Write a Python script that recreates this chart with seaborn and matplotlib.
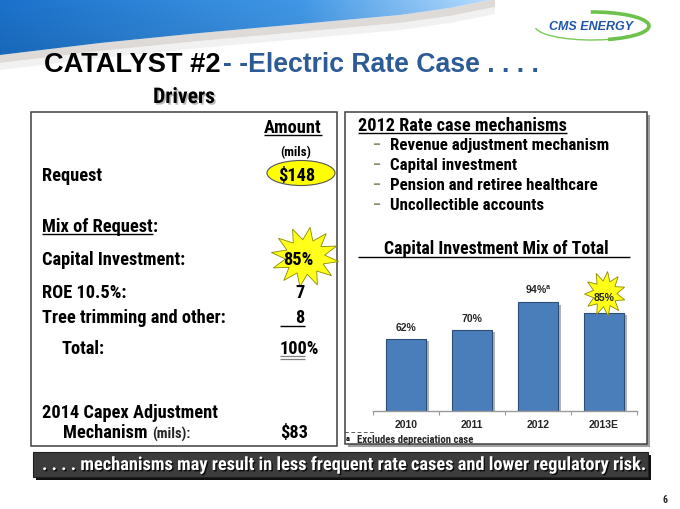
import numpy as np
import pandas as pd
import matplotlib
matplotlib.use('Agg')
import matplotlib.pyplot as plt
import matplotlib.patheffects as pe
from matplotlib import font_manager
from matplotlib.patches import Rectangle, Ellipse, Polygon, Arc
from matplotlib.transforms import ScaledTranslation
import seaborn as sns

# ---------------- data ----------------
years = ['2010', '2011', '2012', '2013E']
capital_mix = [62, 70, 94, 85]
bar_labels = ['62%', '70%', '94%', '85%']

request_label = 'Request'
request_amount = '$148'
mix_items = ['Capital Investment:', 'ROE 10.5%:', 'Tree trimming and other:']
mix_values = ['85%', '7', '8']
total_value = '100%'
capex_amount = '$83'

mechanisms = ['Revenue adjustment mechanism', 'Capital investment',
              'Pension and retiree healthcare', 'Uncollectible accounts']
banner_text = '. . . . mechanisms may result in less frequent rate cases and lower regulatory risk.'

# ---------------- fonts ----------------
sns.set_theme(style='white')


def _w(f):
    w = f.weight
    if isinstance(w, str):
        w = font_manager.weight_dict.get(w, 400)
    return w


bold_families = {f.name for f in font_manager.fontManager.ttflist if _w(f) >= 700}
NARROW = 'Liberation Sans'
for cand in ['Liberation Sans Narrow', 'Arial Narrow', 'Roboto Condensed', 'PT Sans Narrow',
             'Pragati Narrow', 'Barlow Semi Condensed', 'Fira Sans Condensed',
             'Encode Sans Condensed']:
    if cand in bold_families:
        NARROW = cand
        break
ARIAL = 'Liberation Sans'
plt.rcParams['font.family'] = [NARROW, 'DejaVu Sans']
plt.rcParams['mathtext.fontset'] = 'custom'
plt.rcParams['mathtext.rm'] = ARIAL

fig = plt.figure(figsize=(6.8, 5.1), dpi=100)
fig.patch.set_facecolor('white')

ov = fig.add_axes([0, 0, 1, 1])
ov.set_xlim(0, 680)
ov.set_ylim(510, 0)
ov.axis('off')

# ---------------- header art ----------------
ex = np.array([0, 100, 200, 300, 400, 450, 495])
ey = np.array([56, 44, 34, 25, 16, 9, 0])
xx = np.linspace(0, 495, 80)
yy = np.interp(xx, ex, ey)
blue_poly = np.vstack([[[0, 0], [495, 0]], np.column_stack([xx[::-1], yy[::-1]])])

W = 500
grad = np.zeros((60, W, 3))
t = np.linspace(0, 1, W)
c0 = np.array([0.10, 0.42, 0.75])
c1 = np.array([0.24, 0.56, 0.85])
c2 = np.array([0.70, 0.83, 0.95])
for i, tv in enumerate(t):
    if tv < 0.6:
        c = c0 + (c1 - c0) * (tv / 0.6)
    else:
        c = c1 + (c2 - c1) * ((tv - 0.6) / 0.4)
    grad[:, i, :] = c
vert = np.linspace(1.06, 0.96, 60)[:, None, None]
grad = np.clip(grad * vert, 0, 1)
im = ov.imshow(grad, extent=(0, 500, 60, 0), aspect='auto', zorder=1,
               interpolation='bilinear')
clip = Polygon(blue_poly, closed=True, transform=ov.transData,
               facecolor='none', edgecolor='none')
ov.add_patch(clip)
im.set_clip_path(clip)
ov.set_xlim(0, 680)
ov.set_ylim(510, 0)

band = np.vstack([np.column_stack([xx, yy]),
                  np.column_stack([xx[::-1], yy[::-1] + 8])])
ov.add_patch(Polygon(band, closed=True, facecolor='#C4BDB6', edgecolor='none',
                     alpha=0.55, zorder=0.9))
band2 = np.vstack([np.column_stack([xx, yy + 8]),
                   np.column_stack([xx[::-1], yy[::-1] + 15])])
ov.add_patch(Polygon(band2, closed=True, facecolor='#E8E8E8', edgecolor='none',
                     alpha=0.6, zorder=0.9))

for w_, h_, c_ in [(330, 120, 'white'), (360, 140, 'white'), (300, 100, '#DDE8F4'),
                   (420, 150, '#C9D9EC')]:
    ov.add_patch(Arc((330, -35), w_, h_, theta1=180, theta2=360, color=c_, lw=0.7,
                     zorder=2, alpha=0.9))

# CMS ENERGY logo
ov.add_patch(Arc((592, 27), 114, 28, theta1=-95, theta2=40, color='#6CC24A', lw=2.6, zorder=3))
ov.add_patch(Arc((592, 27), 114, 28, theta1=40, theta2=178, color='#7ACC55', lw=1.0, zorder=3))
ov.text(591, 27, 'CMS ENERGY', fontsize=9, fontweight='heavy', fontstyle='italic',
        family=ARIAL, color='#1F55A8', ha='center', va='center', zorder=4)

fig.canvas.draw()
R = fig.canvas.get_renderer()


def fit(a, target):
    bb = a.get_window_extent(R)
    a.set_fontsize(a.get_fontsize() * target / bb.width)
    return a.get_fontsize()


def txt(x, y, s, size=13, ha='left', color='black', **kw):
    return ov.text(x, y, s, fontsize=size, fontweight='bold', ha=ha, va='baseline',
                   color=color, zorder=6, **kw)


def uline(x0, x1, y, color='black', lw=1.0):
    ov.plot([x0, x1], [y, y], color=color, lw=lw, zorder=6, solid_capstyle='butt')


def ul_under(a, y, color='black', lw=1.0):
    bb = a.get_window_extent(R)
    uline(bb.x0, bb.x1, y, color, lw)


# ---------------- title ----------------
t1 = ov.text(44, 72, 'CATALYST #2', fontsize=20.5, fontweight='bold', family=ARIAL,
             color='black', va='baseline', zorder=5)
fit(t1, 177)
t2 = ov.text(223, 72, '- -Electric Rate Case . . . .', fontsize=20.5, fontweight='bold',
             family=ARIAL, color='#2D5B95', va='baseline', zorder=5)
fit(t2, 316)

td = ov.text(184, 104, 'Drivers', fontsize=15.5, fontweight='bold', ha='center',
             va='baseline', color='black',
             path_effects=[pe.SimplePatchShadow(offset=(1.2, -1.2), shadow_rgbFace='#909090',
                                                alpha=0.6), pe.Normal()])
fit(td, 62)

# ---------------- boxes ----------------
ov.add_patch(Rectangle((31, 113), 306, 334, facecolor='white', edgecolor='#404040',
                       lw=1.1, zorder=1))
ov.add_patch(Rectangle((348, 116), 302, 332, facecolor='#A0A0A0', edgecolor='none',
                       zorder=0.9))
ov.add_patch(Rectangle((345, 113), 302, 332, facecolor='white', edgecolor='#404040',
                       lw=1.1, zorder=1))

# left box body size from the longest label
probe = txt(42, 323, mix_items[2])
S = fit(probe, 182)
probe.remove()

ta = txt(293, 133, 'Amount', size=S, ha='center')
fig.canvas.draw()
ul_under(ta, 136)
txt(296, 156, '(mils)', size=S * 0.72, ha='center')
ov.add_patch(Ellipse((301, 174), 68, 25, facecolor='#FFFF00', edgecolor='#555555',
                     lw=0.8, zorder=5))
txt(42, 181, request_label, size=S)
txt(297, 181, request_amount, size=S, ha='center')

tm = txt(42, 232, 'Mix of Request', size=S)
fig.canvas.draw()
bbm = tm.get_window_extent(R)
txt(bbm.x1 + 0.5, 232, ':', size=S)
uline(bbm.x0, bbm.x1, 235)


def star(cx, cy, rx, ry, n=12, inner=0.62, rot=0.0):
    ang = np.linspace(0, 2 * np.pi, 2 * n, endpoint=False) + rot
    r = np.where(np.arange(2 * n) % 2 == 0, 1.0, inner)
    return np.column_stack([cx + rx * r * np.cos(ang), cy + ry * r * np.sin(ang)])


ov.add_patch(Polygon(star(305, 258, 34, 30, n=12, inner=0.58, rot=0.15), closed=True,
                     facecolor='#FFFF1A', edgecolor='#8A8A00', lw=0.6, zorder=5))

mix_y = [265, 298, 323]
for k, (lab, val, y) in enumerate(zip(mix_items, mix_values, mix_y)):
    txt(42, y, lab, size=S)
    txt(298 if k == 0 else 300, y, val, size=S, ha='center')
uline(280, 305, 327)
txt(62, 354, 'Total:', size=S)
txt(280, 354, total_value, size=S)
uline(280, 305, 357, color='#808080', lw=0.9)
uline(280, 305, 359.5, color='#808080', lw=0.9)

txt(42, 418, '2014 Capex Adjustment', size=S)
t_m = txt(63, 438, 'Mechanism ', size=S)
ov.annotate('(mils):', xy=(1, 0), xycoords=t_m, fontsize=S * 0.8, fontweight='bold',
            va='bottom', ha='left', zorder=6)
txt(280, 438, capex_amount, size=S)

# right box
th = txt(358, 131, '2012 Rate case mechanisms', size=S)
fit(th, 209)
fig.canvas.draw()
ul_under(th, 134)
tb0 = txt(390, 150, mechanisms[0], size=12)
B = fit(tb0, 218)
for i, m in enumerate(mechanisms):
    y = 150 + i * 20
    txt(373, y - 1, '–', size=B * 0.85, color='#8C8C6A')
    if i > 0:
        txt(390, y, m, size=B)

tc = txt(496, 254, 'Capital Investment Mix of Total', ha='center', size=S)
fit(tc, 226)
uline(358, 630, 258)

# ---------------- bar chart (seaborn) ----------------
px = 1.155
bx = fig.add_axes([373 / 680, 1 - 412 / 510, 264 / 680, 100 * px / 510])
bx.patch.set_alpha(0)
df = pd.DataFrame({'year': years, 'mix': capital_mix})
sns.barplot(data=df, x='year', y='mix', ax=bx, color='#4A7EBB', saturation=1,
            width=0.62, edgecolor='#2B4C74', linewidth=0.8)
for p in bx.patches:
    p.set_path_effects([pe.SimplePatchShadow(offset=(1.5, -1.5), alpha=0.35), pe.Normal()])
bx.set_xlim(-0.5, 3.5)
bx.set_ylim(0, 100)
for s in ['top', 'right', 'left']:
    bx.spines[s].set_visible(False)
bx.spines['bottom'].set_color('#9A9A9A')
bx.spines['bottom'].set_linewidth(1.0)
bx.set_yticks([])
bx.set_xlabel('')
bx.set_ylabel('')
bx.set_xticks(range(len(years)))
bx.set_xticklabels(years, fontsize=7.5, fontweight='bold', family=ARIAL)
bx.tick_params(axis='x', which='major', length=0, pad=6)
bx.set_xticks([-0.5, 0.5, 1.5, 2.5, 3.5], minor=True)
bx.tick_params(axis='x', which='minor', length=3, color='#9A9A9A', width=0.8,
               direction='out', bottom=True)

sx = fig.dpi_scale_trans + ScaledTranslation(3, capital_mix[3], bx.transData)
bx.add_patch(Polygon(star(0.01, 0.19, 0.205, 0.225, n=11, inner=0.58, rot=0.3),
                     closed=True, transform=sx, facecolor='#FFFF1A',
                     edgecolor='#8A8A00', lw=0.6, zorder=4, clip_on=False))

for i, (v, lab) in enumerate(zip(capital_mix, bar_labels)):
    if i == 2:
        lab = lab + r'$^{\mathregular{a}}$'
    off = 11.5 if i == 3 else 5
    bx.annotate(lab, xy=(i, v), xytext=(0, off), textcoords='offset points',
                ha='center', va='bottom' if i != 3 else 'center', fontsize=7.5,
                fontweight='bold', family=ARIAL, zorder=6, annotation_clip=False)

# footnote
ov.text(345, 431, '_ _ _ _ _', fontsize=7, color='#404040', va='baseline', zorder=6)
ov.text(346, 441, 'a', fontsize=6, fontweight='bold', color='black', va='baseline', zorder=6)
tf = ov.text(357, 443, 'Excludes depreciation case', fontsize=9, fontweight='bold',
             va='baseline', zorder=6)
fit(tf, 118)

# ---------------- bottom banner ----------------
ov.add_patch(Rectangle((36, 456), 615, 25, facecolor='#101010', edgecolor='none', zorder=5))
ov.add_patch(Rectangle((33, 453), 615, 25, facecolor='#3C3C3C', edgecolor='#202020',
                       lw=0.8, zorder=6))
tbn = ov.text(42, 466, banner_text, fontsize=13, fontweight='bold', color='white',
              va='center', zorder=7,
              path_effects=[pe.SimplePatchShadow(offset=(1, -1), shadow_rgbFace='black',
                                                 alpha=0.8), pe.Normal()])
fit(tbn, 601)

ov.text(665, 503, '6', fontsize=7, fontweight='bold', ha='center', va='baseline', zorder=6)

fig.savefig('out.png', dpi=100, facecolor='white')
